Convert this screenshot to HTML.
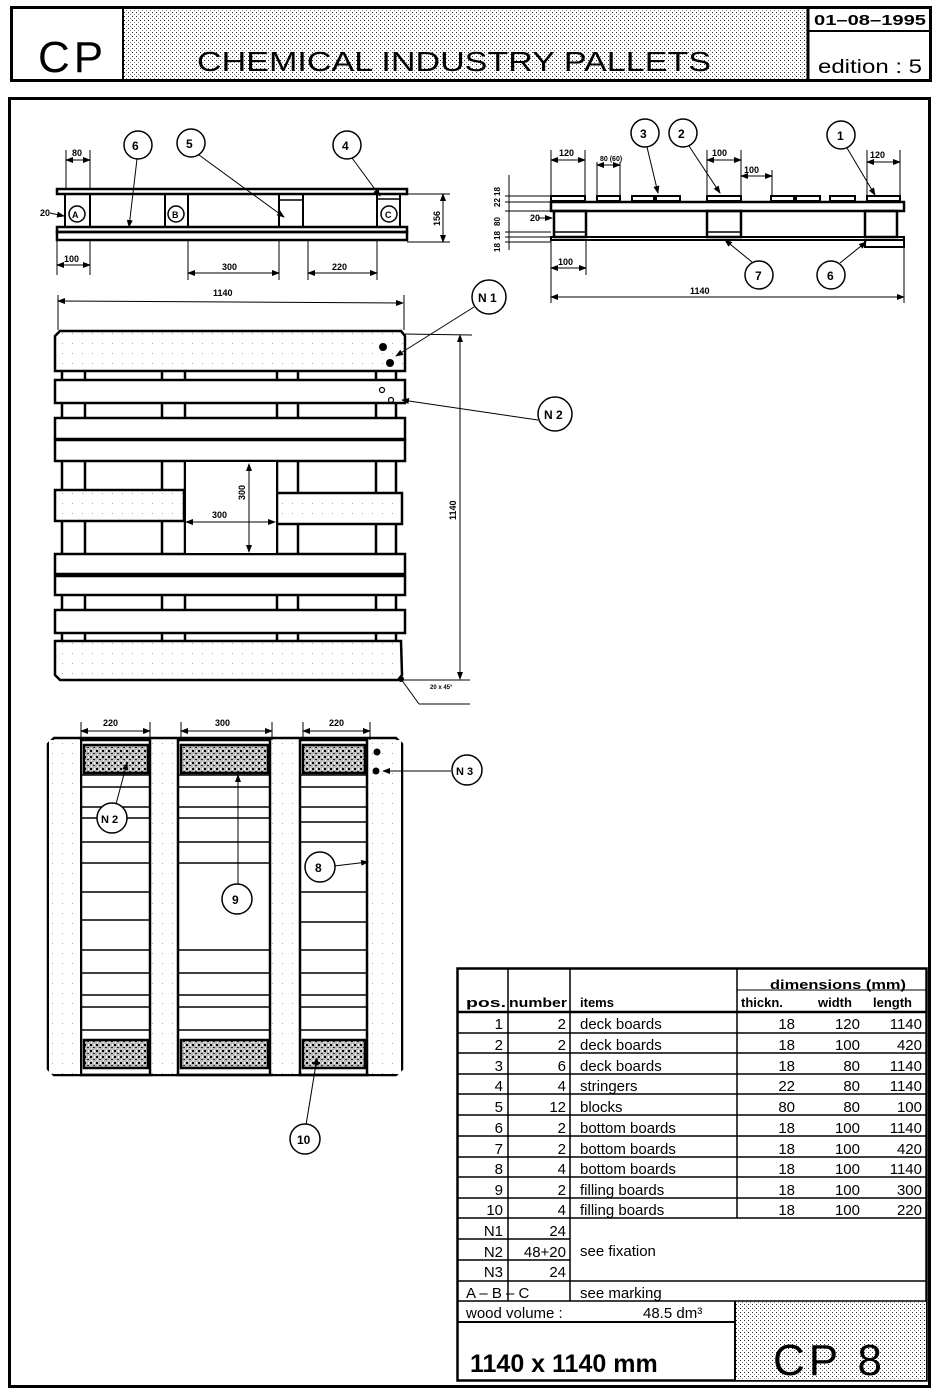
<!DOCTYPE html>
<html><head><meta charset="utf-8"><style>
html,body{margin:0;padding:0;background:#fff}
svg{display:block}
text{font-family:"Liberation Sans",sans-serif}
</style></head><body>
<svg width="936" height="1393" viewBox="0 0 936 1393" xmlns="http://www.w3.org/2000/svg">
<defs>
<pattern id="st" width="4" height="4" patternUnits="userSpaceOnUse">
<rect width="4" height="4" fill="#fff"/>
<rect x="0" y="0" width="1" height="1" fill="#222"/>
<rect x="2" y="2" width="1" height="1" fill="#888"/>
</pattern>
<pattern id="hz" width="6" height="6" patternUnits="userSpaceOnUse">
<rect width="6" height="6" fill="#bbb"/>
<rect x="0" y="0" width="2" height="2" fill="#000"/>
<rect x="3" y="3" width="2" height="1" fill="#222"/>
<rect x="4" y="0" width="1" height="2" fill="#fff"/>
<rect x="1" y="4" width="1" height="1" fill="#fff"/>
</pattern>
<pattern id="lt" width="10" height="10" patternUnits="userSpaceOnUse">
<rect width="10" height="10" fill="#fff"/>
<rect x="2" y="3" width="1" height="1" fill="#aaa"/>
</pattern>
<marker id="ar" markerWidth="8" markerHeight="6" refX="7" refY="3" orient="auto" markerUnits="userSpaceOnUse">
<path d="M0,0 L8,3 L0,6 z" fill="#000"/></marker>
<marker id="as" markerWidth="8" markerHeight="6" refX="1" refY="3" orient="auto" markerUnits="userSpaceOnUse">
<path d="M8,0 L0,3 L8,6 z" fill="#000"/></marker>
</defs>

<!-- HEADER -->
<rect x="123" y="8" width="685" height="72" fill="url(#st)"/>
<rect x="11.5" y="7.5" width="919" height="73" fill="none" stroke="#000" stroke-width="3"/>
<line x1="123" y1="7" x2="123" y2="81" stroke="#000" stroke-width="2"/>
<line x1="808" y1="7" x2="808" y2="81" stroke="#000" stroke-width="3"/>
<line x1="808" y1="31" x2="931" y2="31" stroke="#000" stroke-width="2"/>
<text x="38" y="72" font-size="44" letter-spacing="4">CP</text>
<text x="197" y="71" font-size="28" textLength="514" lengthAdjust="spacingAndGlyphs">CHEMICAL  INDUSTRY  PALLETS</text>
<text x="814" y="25" font-size="15" font-weight="bold" textLength="112" lengthAdjust="spacingAndGlyphs">01–08–1995</text>
<text x="818" y="73" font-size="19" textLength="104" lengthAdjust="spacingAndGlyphs">edition : 5</text>

<!-- MAIN FRAME -->
<rect x="9.5" y="98.5" width="920" height="1288" fill="none" stroke="#000" stroke-width="3"/>

<g stroke="#000" fill="none">
<!-- LEFT SIDE VIEW -->
<rect x="57" y="189" width="350" height="5" stroke-width="2.5"/>
<rect x="65" y="194" width="25" height="33" stroke-width="2"/>
<rect x="165" y="194" width="23" height="33" stroke-width="2"/>
<rect x="279" y="194" width="24" height="33" stroke-width="2"/>
<rect x="377" y="194" width="23" height="33" stroke-width="2"/>
<line x1="279" y1="200" x2="303" y2="200" stroke-width="1.5"/>
<line x1="377" y1="199" x2="400" y2="199" stroke-width="1.5"/>
<rect x="57" y="227" width="350" height="5" stroke-width="2.5"/>
<rect x="57" y="232" width="350" height="8" stroke-width="2.5"/>
<circle cx="77" cy="214" r="8" stroke-width="1.5"/>
<circle cx="176" cy="214" r="8" stroke-width="1.5"/>
<circle cx="389" cy="214" r="8" stroke-width="1.5"/>
<g stroke-width="1">
<line x1="66" y1="150" x2="66" y2="189"/><line x1="90" y1="150" x2="90" y2="189"/>
<line x1="66" y1="160" x2="90" y2="160" marker-start="url(#as)" marker-end="url(#ar)"/>
<line x1="57" y1="240" x2="57" y2="275"/><line x1="90" y1="240" x2="90" y2="275"/>
<line x1="57" y1="265" x2="90" y2="265" marker-start="url(#as)" marker-end="url(#ar)"/>
<line x1="188" y1="240" x2="188" y2="280"/><line x1="279" y1="240" x2="279" y2="280"/>
<line x1="188" y1="273" x2="279" y2="273" marker-start="url(#as)" marker-end="url(#ar)"/>
<line x1="308" y1="240" x2="308" y2="280"/><line x1="377" y1="240" x2="377" y2="280"/>
<line x1="308" y1="273" x2="377" y2="273" marker-start="url(#as)" marker-end="url(#ar)"/>
<line x1="407" y1="194" x2="450" y2="194"/><line x1="407" y1="242" x2="450" y2="242"/>
<line x1="443" y1="194" x2="443" y2="242" marker-start="url(#as)" marker-end="url(#ar)"/>
<line x1="50" y1="213" x2="64" y2="216" marker-end="url(#ar)"/>
</g>
<circle cx="138" cy="145" r="14" stroke-width="1.5"/>
<circle cx="191" cy="143" r="14" stroke-width="1.5"/>
<circle cx="347" cy="145" r="14" stroke-width="1.5"/>
<line x1="137" y1="159" x2="129" y2="227" stroke-width="1" marker-end="url(#ar)"/>
<line x1="199" y1="155" x2="284" y2="217" stroke-width="1" marker-end="url(#ar)"/>
<line x1="352" y1="158" x2="380" y2="196" stroke-width="1" marker-end="url(#ar)"/>

<!-- RIGHT SIDE VIEW -->
<g stroke-width="2">
<rect x="551" y="196" width="34" height="5"/><rect x="597" y="196" width="23" height="5"/>
<rect x="632" y="196" width="22" height="5"/><rect x="656" y="196" width="24" height="5"/>
<rect x="707" y="196" width="34" height="5"/><rect x="771" y="196" width="23" height="5"/>
<rect x="796" y="196" width="24" height="5"/><rect x="830" y="196" width="25" height="5"/>
<rect x="867" y="196" width="33" height="5"/>
</g>
<rect x="551" y="202" width="353" height="9" stroke-width="2.5"/>
<rect x="554" y="211" width="32" height="26" stroke-width="2.5"/>
<rect x="707" y="211" width="34" height="26" stroke-width="2.5"/>
<rect x="865" y="211" width="32" height="26" stroke-width="2.5"/>
<line x1="554" y1="232" x2="586" y2="232" stroke-width="1.5"/>
<line x1="707" y1="232" x2="741" y2="232" stroke-width="1.5"/>
<rect x="551" y="237" width="353" height="3" stroke-width="2"/>
<rect x="865" y="240" width="39" height="7" stroke-width="2"/>
<g stroke-width="1">
<line x1="551" y1="150" x2="551" y2="196"/><line x1="585" y1="150" x2="585" y2="196"/>
<line x1="551" y1="160" x2="585" y2="160" marker-start="url(#as)" marker-end="url(#ar)"/>
<line x1="597" y1="162" x2="597" y2="196"/><line x1="620" y1="162" x2="620" y2="196"/>
<line x1="597" y1="165" x2="620" y2="165" marker-start="url(#as)" marker-end="url(#ar)"/>
<line x1="707" y1="150" x2="707" y2="196"/><line x1="741" y1="150" x2="741" y2="196"/>
<line x1="707" y1="160" x2="741" y2="160" marker-start="url(#as)" marker-end="url(#ar)"/>
<line x1="741" y1="176" x2="772" y2="176" marker-start="url(#as)" marker-end="url(#ar)"/>
<line x1="772" y1="170" x2="772" y2="196"/>
<line x1="867" y1="150" x2="867" y2="196"/><line x1="900" y1="150" x2="900" y2="196"/>
<line x1="867" y1="162" x2="900" y2="162" marker-start="url(#as)" marker-end="url(#ar)"/>
<line x1="551" y1="240" x2="551" y2="303"/><line x1="904" y1="247" x2="904" y2="303"/>
<line x1="551" y1="297" x2="904" y2="297" marker-start="url(#as)" marker-end="url(#ar)"/>
<line x1="586" y1="240" x2="586" y2="275"/>
<line x1="551" y1="268" x2="586" y2="268" marker-start="url(#as)" marker-end="url(#ar)"/>
<line x1="505" y1="196" x2="551" y2="196"/><line x1="505" y1="202" x2="551" y2="202"/>
<line x1="505" y1="211" x2="551" y2="211"/><line x1="505" y1="232" x2="551" y2="232"/>
<line x1="505" y1="237" x2="551" y2="237"/><line x1="505" y1="242" x2="551" y2="242"/>
<line x1="509" y1="175" x2="509" y2="250"/>
<line x1="538" y1="218" x2="552" y2="218" marker-end="url(#ar)"/>
</g>
<circle cx="645" cy="133" r="14" stroke-width="1.5"/>
<circle cx="683" cy="133" r="14" stroke-width="1.5"/>
<circle cx="841" cy="135" r="14" stroke-width="1.5"/>
<circle cx="759" cy="275" r="14" stroke-width="1.5"/>
<circle cx="831" cy="275" r="14" stroke-width="1.5"/>
<line x1="647" y1="147" x2="658" y2="193" stroke-width="1" marker-end="url(#ar)"/>
<line x1="689" y1="146" x2="720" y2="193" stroke-width="1" marker-end="url(#ar)"/>
<line x1="847" y1="148" x2="875" y2="195" stroke-width="1" marker-end="url(#ar)"/>
<line x1="752" y1="262" x2="725" y2="240" stroke-width="1" marker-end="url(#ar)"/>
<line x1="840" y1="263" x2="866" y2="242" stroke-width="1" marker-end="url(#ar)"/>

<!-- TOP VIEW -->
<g stroke-width="2.5">
<line x1="62" y1="371" x2="62" y2="641"/><line x1="85" y1="371" x2="85" y2="641"/>
<line x1="162" y1="371" x2="162" y2="641"/><line x1="185" y1="371" x2="185" y2="641"/>
<line x1="277" y1="371" x2="277" y2="641"/><line x1="298" y1="371" x2="298" y2="641"/>
<line x1="376" y1="371" x2="376" y2="641"/><line x1="396" y1="371" x2="396" y2="641"/>
</g>
<g fill="#fff" stroke-width="2.5">
<path d="M60,331 L401,331 L405,336 L405,371 L55,371 L55,336 Z" fill="url(#lt)"/>
<rect x="55" y="380" width="350" height="23"/>
<rect x="55" y="418" width="350" height="21"/>
<rect x="55" y="440" width="350" height="21"/>
<rect x="55" y="490" width="129" height="31" fill="url(#lt)"/>
<rect x="277" y="493" width="125" height="31" fill="url(#lt)"/>
<rect x="55" y="554" width="350" height="20"/>
<rect x="55" y="576" width="350" height="19"/>
<rect x="55" y="610" width="350" height="23"/>
<path d="M55,641 L401,641 L402,675 L398,680 L60,680 L55,675 Z" fill="url(#lt)"/>
</g>
<rect x="186" y="462" width="90" height="91" fill="#fff" stroke="none"/>
<circle cx="383" cy="347" r="4" fill="#000" stroke="none"/>
<circle cx="390" cy="363" r="4" fill="#000" stroke="none"/>
<circle cx="382" cy="390" r="2.5" stroke-width="1.2"/>
<circle cx="391" cy="400" r="2.5" stroke-width="1.2"/>
<g stroke-width="1">
<line x1="186" y1="522" x2="275" y2="522" marker-start="url(#as)" marker-end="url(#ar)"/>
<line x1="249" y1="464" x2="249" y2="552" marker-start="url(#as)" marker-end="url(#ar)"/>
<line x1="58" y1="295" x2="58" y2="330"/><line x1="404" y1="295" x2="404" y2="330"/>
<line x1="58" y1="301" x2="403" y2="303" marker-start="url(#as)" marker-end="url(#ar)"/>
<line x1="403" y1="334" x2="472" y2="335"/><line x1="403" y1="680" x2="470" y2="680"/>
<line x1="460" y1="335" x2="460" y2="679" marker-start="url(#as)" marker-end="url(#ar)"/>
<line x1="474" y1="307" x2="396" y2="356" marker-end="url(#ar)"/>
<line x1="538" y1="420" x2="402" y2="400" marker-end="url(#ar)"/>
<line x1="401" y1="679" x2="419" y2="704"/><line x1="419" y1="704" x2="470" y2="704"/>
</g>
<circle cx="401" cy="679" r="2.5" fill="#000"/>
<circle cx="489" cy="297" r="17" stroke-width="1.5"/>
<circle cx="555" cy="414" r="17" stroke-width="1.5"/>

<!-- BOTTOM VIEW -->
<path d="M54,738 L396,738 L402,744 L402,1069 L396,1075 L54,1075 L48,1069 L48,744 Z" stroke-width="2.5" fill="#fff"/>
<g stroke-width="2.5">
<rect x="81" y="740" width="69" height="335"/>
<rect x="178" y="740" width="92" height="335"/>
<rect x="300" y="740" width="67" height="335"/>
</g>
<rect x="49" y="740" width="31" height="334" fill="url(#lt)" stroke="none"/>
<rect x="152" y="740" width="24" height="334" fill="url(#lt)" stroke="none"/>
<rect x="272" y="740" width="26" height="334" fill="url(#lt)" stroke="none"/>
<rect x="369" y="740" width="32" height="334" fill="url(#lt)" stroke="none"/>
<g stroke-width="2.5" fill="url(#hz)">
<rect x="84" y="745" width="64" height="28"/>
<rect x="181" y="745" width="87" height="28"/>
<rect x="303" y="745" width="62" height="28"/>
<rect x="84" y="1040" width="64" height="28"/>
<rect x="181" y="1040" width="87" height="28"/>
<rect x="303" y="1040" width="62" height="28"/>
</g>
<g stroke-width="1.5">
<path d="M81,775H150M81,787H150M81,807H150M81,818H150M81,842H150M81,863H150M81,892H150M81,920H150M81,950H150M81,973H150M81,995H150M81,1007H150M81,1030H150"/>
<path d="M178,775H270M178,787H270M178,807H270M178,818H270M178,842H270M178,863H270M178,950H270M178,973H270M178,995H270M178,1007H270M178,1030H270"/>
<path d="M300,775H367M300,787H367M300,807H367M300,822H367M300,842H367M300,892H367M300,922H367M300,950H367M300,973H367M300,995H367M300,1007H367M300,1030H367"/>
</g>
<circle cx="377" cy="752" r="3.5" fill="#000" stroke="none"/>
<circle cx="376" cy="771" r="3.5" fill="#000" stroke="none"/>
<g stroke-width="1">
<line x1="81" y1="722" x2="81" y2="740"/><line x1="150" y1="722" x2="150" y2="740"/>
<line x1="81" y1="731" x2="150" y2="731" marker-start="url(#as)" marker-end="url(#ar)"/>
<line x1="181" y1="722" x2="181" y2="740"/><line x1="272" y1="722" x2="272" y2="740"/>
<line x1="181" y1="731" x2="272" y2="731" marker-start="url(#as)" marker-end="url(#ar)"/>
<line x1="303" y1="722" x2="303" y2="740"/><line x1="370" y1="722" x2="370" y2="740"/>
<line x1="303" y1="731" x2="370" y2="731" marker-start="url(#as)" marker-end="url(#ar)"/>
<line x1="116" y1="804" x2="127" y2="763" marker-end="url(#ar)"/>
<line x1="238" y1="884" x2="238" y2="775" marker-end="url(#ar)"/>
<line x1="334" y1="866" x2="368" y2="862" marker-end="url(#ar)"/>
<line x1="306" y1="1125" x2="317" y2="1058" marker-end="url(#ar)"/>
<line x1="451" y1="771" x2="383" y2="771" marker-end="url(#ar)"/>
</g>
<g fill="#fff" stroke-width="1.5">
<circle cx="112" cy="818" r="15"/>
<circle cx="237" cy="899" r="15"/>
<circle cx="320" cy="867" r="15"/>
<circle cx="305" cy="1139" r="15"/>
<circle cx="467" cy="770" r="15"/>
</g>

<!-- TABLE -->
<rect x="457.5" y="968.5" width="469" height="412" stroke-width="2.5" fill="#fff"/>
<g stroke-width="1.5">
<line x1="458" y1="1012" x2="927" y2="1012" stroke-width="2.5"/>
<path d="M458,1033H927M458,1053H927M458,1074H927M458,1094H927M458,1115H927M458,1136H927M458,1157H927M458,1177H927M458,1198H927M458,1218H927"/>
<path d="M458,1239H570M458,1260H570M458,1281H927M458,1301H927"/>
<line x1="737" y1="990" x2="927" y2="990" stroke-width="1"/>
<line x1="508" y1="969" x2="508" y2="1301"/>
<line x1="570" y1="969" x2="570" y2="1301"/>
<line x1="737" y1="969" x2="737" y2="1218"/>
<line x1="458" y1="1322" x2="735" y2="1322" stroke-width="2"/>
<line x1="735" y1="1301" x2="735" y2="1381" stroke-width="2"/>
</g>
<rect x="736" y="1302" width="190" height="78" fill="url(#st)" stroke="none"/>
</g>

<g font-size="10" font-weight="bold" fill="#000">
<text x="72" y="156" font-size="9">80</text>
<text x="64" y="262" font-size="9">100</text>
<text x="222" y="270" font-size="9">300</text>
<text x="332" y="270" font-size="9">220</text>
<text x="40" y="216" font-size="9">20</text>
<text x="0" y="0" font-size="9" transform="translate(440,226) rotate(-90)">156</text>
<text x="132" y="150" font-size="12">6</text>
<text x="186" y="148" font-size="12">5</text>
<text x="342" y="150" font-size="12">4</text>
<text x="72" y="218" font-size="9">A</text>
<text x="172" y="218" font-size="9">B</text>
<text x="385" y="218" font-size="9">C</text>
<text x="559" y="156" font-size="9">120</text>
<text x="600" y="161" font-size="7">80 (60)</text>
<text x="712" y="156" font-size="9">100</text>
<text x="744" y="173" font-size="9">100</text>
<text x="870" y="158" font-size="9">120</text>
<text x="558" y="265" font-size="9">100</text>
<text x="690" y="294" font-size="9">1140</text>
<text x="530" y="221" font-size="9">20</text>
<g font-size="8">
<text transform="translate(500,196) rotate(-90)">18</text>
<text transform="translate(500,207) rotate(-90)">22</text>
<text transform="translate(500,226) rotate(-90)">80</text>
<text transform="translate(500,240) rotate(-90)">18</text>
<text transform="translate(500,252) rotate(-90)">18</text>
</g>
<text x="640" y="138" font-size="12">3</text>
<text x="678" y="138" font-size="12">2</text>
<text x="837" y="140" font-size="12">1</text>
<text x="755" y="280" font-size="12">7</text>
<text x="827" y="280" font-size="12">6</text>
<text x="213" y="296" font-size="9">1140</text>
<text transform="translate(456,520) rotate(-90)" font-size="9">1140</text>
<text x="212" y="518" font-size="9">300</text>
<text transform="translate(245,500) rotate(-90)" font-size="9">300</text>
<text x="478" y="302" font-size="12">N 1</text>
<text x="544" y="419" font-size="12">N 2</text>
<text x="430" y="689" font-size="6">20 x 45°</text>
<text x="103" y="726" font-size="9">220</text>
<text x="215" y="726" font-size="9">300</text>
<text x="329" y="726" font-size="9">220</text>
<text x="101" y="823" font-size="11">N 2</text>
<text x="232" y="904" font-size="12">9</text>
<text x="315" y="872" font-size="12">8</text>
<text x="297" y="1144" font-size="12">10</text>
<text x="456" y="775" font-size="11">N 3</text>
</g>

<g font-size="15" fill="#000">
<text x="466" y="1007" font-weight="bold" font-size="13" textLength="40" lengthAdjust="spacingAndGlyphs">pos.</text>
<text x="509" y="1007" font-weight="bold" font-size="13" textLength="58" lengthAdjust="spacingAndGlyphs">number</text>
<text x="580" y="1007" font-weight="bold" font-size="13">items</text>
<text x="770" y="989" font-weight="bold" font-size="13" textLength="136" lengthAdjust="spacingAndGlyphs">dimensions (mm)</text>
<text x="741" y="1007" font-weight="bold" font-size="13">thickn.</text>
<text x="818" y="1007" font-weight="bold" font-size="13">width</text>
<text x="873" y="1007" font-weight="bold" font-size="13">length</text>
<g text-anchor="end">
<text x="503" y="1029">1</text><text x="503" y="1050">2</text><text x="503" y="1071">3</text><text x="503" y="1091">4</text><text x="503" y="1112">5</text><text x="503" y="1133">6</text><text x="503" y="1154">7</text><text x="503" y="1174">8</text><text x="503" y="1195">9</text><text x="503" y="1215">10</text>
<text x="503" y="1236">N1</text><text x="503" y="1257">N2</text><text x="503" y="1277">N3</text>
<text x="566" y="1029">2</text><text x="566" y="1050">2</text><text x="566" y="1071">6</text><text x="566" y="1091">4</text><text x="566" y="1112">12</text><text x="566" y="1133">2</text><text x="566" y="1154">2</text><text x="566" y="1174">4</text><text x="566" y="1195">2</text><text x="566" y="1215">4</text>
<text x="566" y="1236">24</text><text x="566" y="1257">48+20</text><text x="566" y="1277">24</text>
<text x="795" y="1029">18</text><text x="795" y="1050">18</text><text x="795" y="1071">18</text><text x="795" y="1091">22</text><text x="795" y="1112">80</text><text x="795" y="1133">18</text><text x="795" y="1154">18</text><text x="795" y="1174">18</text><text x="795" y="1195">18</text><text x="795" y="1215">18</text>
<text x="860" y="1029">120</text><text x="860" y="1050">100</text><text x="860" y="1071">80</text><text x="860" y="1091">80</text><text x="860" y="1112">80</text><text x="860" y="1133">100</text><text x="860" y="1154">100</text><text x="860" y="1174">100</text><text x="860" y="1195">100</text><text x="860" y="1215">100</text>
<text x="922" y="1029">1140</text><text x="922" y="1050">420</text><text x="922" y="1071">1140</text><text x="922" y="1091">1140</text><text x="922" y="1112">100</text><text x="922" y="1133">1140</text><text x="922" y="1154">420</text><text x="922" y="1174">1140</text><text x="922" y="1195">300</text><text x="922" y="1215">220</text>
</g>
<text x="580" y="1029">deck boards</text><text x="580" y="1050">deck boards</text><text x="580" y="1071">deck boards</text><text x="580" y="1091">stringers</text><text x="580" y="1112">blocks</text><text x="580" y="1133">bottom boards</text><text x="580" y="1154">bottom boards</text><text x="580" y="1174">bottom boards</text><text x="580" y="1195">filling boards</text><text x="580" y="1215">filling boards</text>
<text x="580" y="1256">see fixation</text>
<text x="466" y="1298">A – B – C</text>
<text x="580" y="1298">see marking</text>
<text x="466" y="1318">wood volume :</text>
<text x="643" y="1318">48.5 dm³</text>
<text x="470" y="1372" font-size="25" font-weight="bold">1140 x 1140  mm</text>
<text x="773" y="1375" font-size="44" letter-spacing="4">CP 8</text>
</g>
</svg>
</body></html>
